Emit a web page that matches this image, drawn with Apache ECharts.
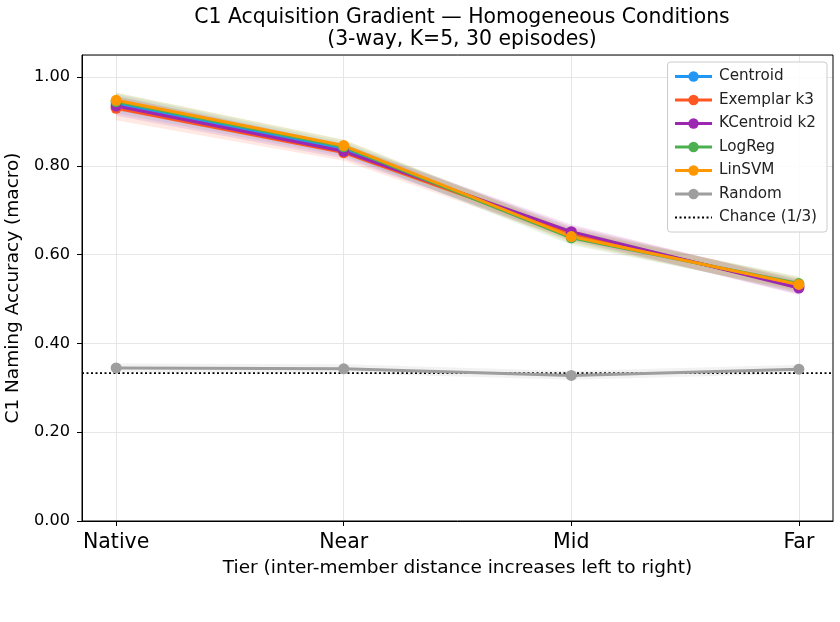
<!DOCTYPE html>
<html><head><meta charset="utf-8">
<script src="https://cdn.jsdelivr.net/npm/echarts@6/dist/echarts.min.js"></script>
<style>html,body{margin:0;padding:0;background:#fff}#c{width:840px;height:622px}</style>
</head><body><div id="c"></div>
<script>
const tiers = ['Native', 'Near', 'Mid', 'Far'];
const yTicks = [0, 0.2, 0.4, 0.6, 0.8, 1.0];
const centroid  = [0.940, 0.838, 0.645, 0.530];
const exemplar  = [0.930, 0.830, 0.648, 0.528];
const kcentroid = [0.935, 0.833, 0.652, 0.525];
const logreg    = [0.945, 0.843, 0.638, 0.535];
const linsvm    = [0.948, 0.846, 0.641, 0.533];
const random    = [0.345, 0.343, 0.328, 0.342];
const centroidSd  = [0.022, 0.016, 0.016, 0.016];
const exemplarSd  = [0.027, 0.018, 0.016, 0.016];
const kcentroidSd = [0.022, 0.016, 0.016, 0.016];
const logregSd    = [0.020, 0.016, 0.016, 0.016];
const linsvmSd    = [0.017, 0.013, 0.016, 0.016];
const randomSd    = [0.010, 0.010, 0.010, 0.010];
const chance = 1 / 3;

const seriesDefs = [
  {name: 'Centroid', data: centroid, sd: centroidSd, color: '#2196F3'},
  {name: 'Exemplar k3', data: exemplar, sd: exemplarSd, color: '#FF5722'},
  {name: 'KCentroid k2', data: kcentroid, sd: kcentroidSd, color: '#9C27B0'},
  {name: 'LogReg', data: logreg, sd: logregSd, color: '#4CAF50'},
  {name: 'LinSVM', data: linsvm, sd: linsvmSd, color: '#FF9800'},
  {name: 'Random', data: random, sd: randomSd, color: '#9E9E9E'}
];

function bandSeries(def) {
  return {
    type: 'custom', silent: true, z: 1,
    data: [[0, def.data[0]]],
    renderItem: function (params, api) {
      const pts = [];
      for (let i = 0; i < def.data.length; i++) pts.push(api.coord([i, def.data[i] + def.sd[i]]));
      for (let i = def.data.length - 1; i >= 0; i--) pts.push(api.coord([i, def.data[i] - def.sd[i]]));
      return {type: 'polygon', shape: {points: pts}, style: {fill: def.color, opacity: 0.13}};
    }
  };
}

const series = [];
seriesDefs.forEach(d => series.push(bandSeries(d)));
seriesDefs.forEach(d => series.push({
  name: d.name, type: 'line', z: 3,
  data: d.data.map((v, i) => [i, v]),
  symbol: 'circle', symbolSize: 11,
  itemStyle: {color: d.color},
  lineStyle: {color: d.color, width: 3},
  emphasis: {disabled: true}
}));
series.push({
  name: 'Chance (1/3)', type: 'line', z: 2, symbol: 'none',
  data: [[-0.15, chance], [3.15, chance]],
  lineStyle: {color: '#000', width: 1.8, type: [2, 2.5]},
  itemStyle: {color: '#000'}
});

const legendData = seriesDefs.map(d => ({name: d.name}));
legendData.push({name: 'Chance (1/3)', itemStyle: {opacity: 0}, lineStyle: {width: 1.8, type: [2, 2.5], color: '#000'}});

const chart = echarts.init(document.getElementById('c'), null, {renderer: 'canvas'});
chart.setOption({
  animation: false,
  backgroundColor: '#fff',
  title: {
    text: 'C1 Acquisition Gradient — Homogeneous Conditions\n(3-way, K=5, 30 episodes)',
    left: 457, top: 2, textAlign: 'center',
    textStyle: {fontFamily: 'DejaVu Sans', fontSize: 20.4, fontWeight: 'normal', color: '#000', lineHeight: 22}
  },
  legend: {
    data: legendData,
    orient: 'vertical', right: 13, top: 62,
    itemWidth: 37, itemHeight: 13, itemGap: 8.5,
    padding: [7, 10, 7, 6],
    borderColor: '#ccc', borderWidth: 1, borderRadius: 3,
    backgroundColor: 'rgba(255,255,255,0.85)',
    lineStyle: {width: 3},
    textStyle: {fontFamily: 'DejaVu Sans', fontSize: 15.2, color: '#222', padding: [0, 0, 0, 2]}
  },
  grid: {left: 82, right: 7, top: 55, bottom: 101, containLabel: false, outerBoundsMode: 'none'},
  xAxis: {
    type: 'value', min: -0.15, max: 3.15,
    name: 'Tier (inter-member distance increases left to right)',
    nameLocation: 'middle', nameGap: 38,
    nameTextStyle: {fontFamily: 'DejaVu Sans', fontSize: 18.5, color: '#000'},
    axisLine: {show: true, onZero: false, lineStyle: {color: '#000', width: 1}},
    axisTick: {show: true, customValues: [0, 1, 2, 3], length: 5, lineStyle: {color: '#000'}},
    axisLabel: {customValues: [0, 1, 2, 3], formatter: v => tiers[Math.round(v)], fontFamily: 'DejaVu Sans', fontSize: 20.5, color: '#000', margin: 11},
    splitLine: {show: true, lineStyle: {color: '#e6e6e6', width: 1}}
  },
  yAxis: {
    type: 'value', min: 0, max: 1.05, interval: 0.2,
    name: 'C1 Naming Accuracy (macro)', nameLocation: 'middle', nameGap: 56,
    nameTextStyle: {fontFamily: 'DejaVu Sans', fontSize: 18.5, color: '#000'},
    axisLine: {show: true, onZero: false, lineStyle: {color: '#000', width: 1}},
    axisTick: {show: true, length: 5, lineStyle: {color: '#000'}},
    axisLabel: {formatter: v => v.toFixed(2), fontFamily: 'DejaVu Sans', fontSize: 16.2, color: '#000', margin: 12,
      showMaxLabel: false},
    splitLine: {show: true, lineStyle: {color: '#e6e6e6', width: 1}}
  },
  graphic: [{
    type: 'rect', shape: {x: 82, y: 55, width: 751, height: 466},
    style: {fill: 'none', stroke: '#000', lineWidth: 1}, silent: true, z: 10
  }],
  series: series
});
</script></body></html>
